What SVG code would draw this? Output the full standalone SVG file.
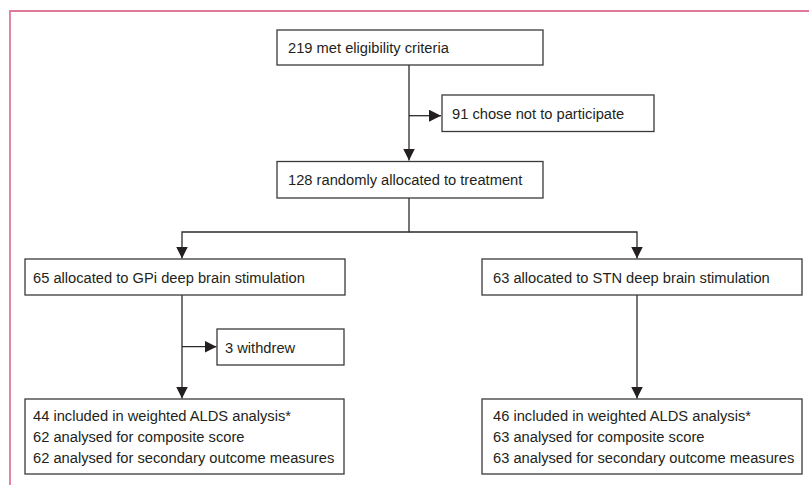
<svg xmlns="http://www.w3.org/2000/svg" width="809" height="485" viewBox="0 0 809 485">
<defs>
<style>
.box{fill:#fff;stroke:#3a3a3a;stroke-width:1.3}
.t{font-family:"Liberation Sans",Arial,sans-serif;font-size:14.7px;fill:#231f20}
.c{fill:none;stroke:#2b2b2b;stroke-width:1.3}
</style>
<marker id="ah" markerUnits="userSpaceOnUse" markerWidth="12" markerHeight="12" viewBox="0 0 12 12" refX="12" refY="6" orient="auto">
<path d="M0,0 L12,6 L0,12 Z" fill="#231f20"/>
</marker>
</defs>
<rect width="809" height="485" fill="#fff"/>
<path d="M10,485 V11 H809" fill="none" stroke="#de7a98" stroke-width="1.8"/>
<g id="connectors">
<path class="c" d="M409,65 V160.5" marker-end="url(#ah)"/>
<path class="c" d="M409,115.7 H441" marker-end="url(#ah)"/>
<path class="c" d="M409,198 V232 H182 V258.5" marker-end="url(#ah)"/>
<path class="c" d="M409,232 H637 V258.5" marker-end="url(#ah)"/>
<path class="c" d="M182,295 V398.5" marker-end="url(#ah)"/>
<path class="c" d="M182,346.7 H216.5" marker-end="url(#ah)"/>
<path class="c" d="M637,295 V398.5" marker-end="url(#ah)"/>
</g>
<g id="eligible">
<rect class="box" x="277" y="30" width="266" height="35"/>
<text class="t" x="288" y="53">219 met eligibility criteria</text>
</g>
<g id="declined">
<rect class="box" x="442" y="95" width="212" height="36.5"/>
<text class="t" x="452" y="118.5">91 chose not to participate</text>
</g>
<g id="randomised">
<rect class="box" x="277" y="161.5" width="266" height="36.5"/>
<text class="t" x="288" y="185">128 randomly allocated to treatment</text>
</g>
<g id="gpi">
<rect class="box" x="25" y="259" width="320" height="36"/>
<text class="t" x="33" y="282.5">65 allocated to GPi deep brain stimulation</text>
</g>
<g id="stn">
<rect class="box" x="482" y="259" width="320" height="36"/>
<text class="t" x="493" y="282.5">63 allocated to STN deep brain stimulation</text>
</g>
<g id="withdrew">
<rect class="box" x="217" y="329" width="127" height="36"/>
<text class="t" x="225" y="352.5">3 withdrew</text>
</g>
<g id="gpi-analysis">
<rect class="box" x="25" y="399" width="319" height="75"/>
<text class="t" x="33" y="421">44 included in weighted ALDS analysis*</text>
<text class="t" x="33" y="442">62 analysed for composite score</text>
<text class="t" x="33" y="463">62 analysed for secondary outcome measures</text>
</g>
<g id="stn-analysis">
<rect class="box" x="482" y="399" width="320" height="75"/>
<text class="t" x="493" y="421">46 included in weighted ALDS analysis*</text>
<text class="t" x="493" y="442">63 analysed for composite score</text>
<text class="t" x="493" y="463">63 analysed for secondary outcome measures</text>
</g>
</svg>
